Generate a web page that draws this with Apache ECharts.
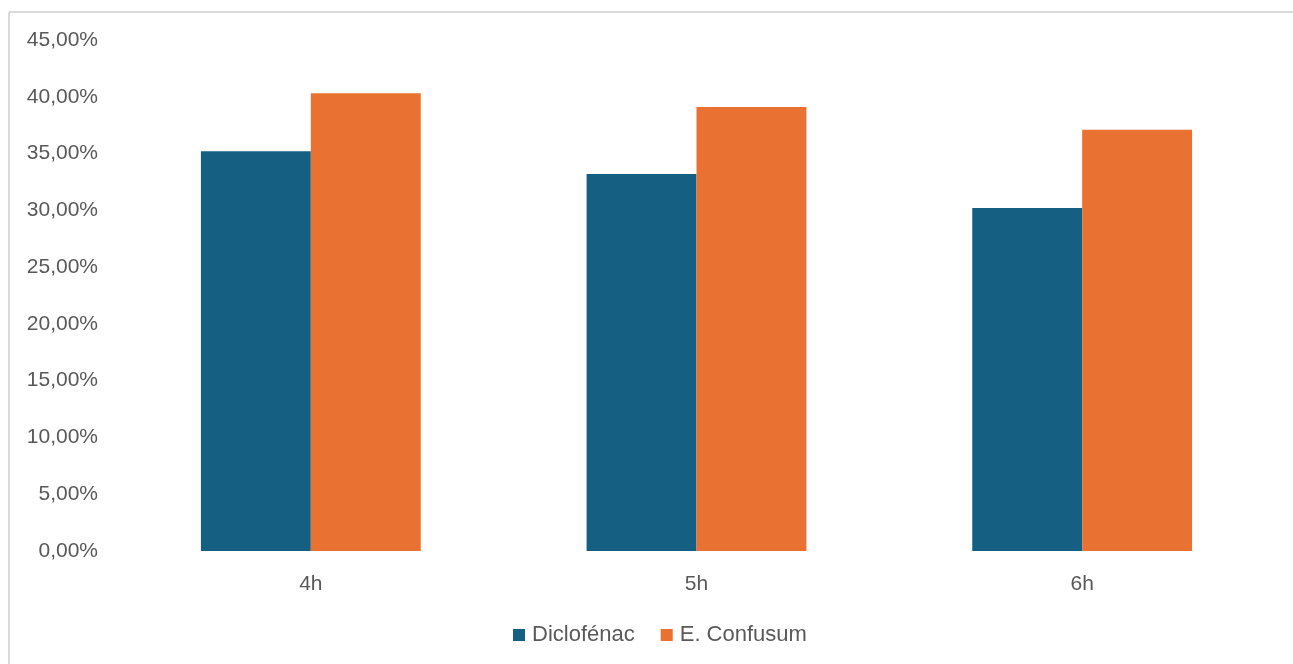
<!DOCTYPE html>
<html>
<head>
<meta charset="utf-8">
<style>
  html, body { margin: 0; padding: 0; background: #ffffff; }
  #chart { width: 1293px; height: 664px; }
</style>
<script src="https://cdn.jsdelivr.net/npm/echarts@6/dist/echarts.min.js"></script>
</head>
<body>
<div id="chart"></div>
<script>
// Time points after administration
const categories = ['4h', '5h', '6h'];
// Inhibition percentages per treatment
const diclofenac = [35.2, 33.2, 30.2];
const eConfusum = [40.3, 39.1, 37.1];
const seriesNames = ['Diclofénac', 'E. Confusum'];

const textColor = '#595959';
const fontFamily = '"Liberation Sans", Arial, sans-serif';

const chart = echarts.init(document.getElementById('chart'));

chart.setOption({
  animation: false,
  backgroundColor: '#ffffff',
  color: ['#156082', '#E97132'],
  graphic: [
    // chart-area frame (left and top edges)
    { type: 'line', shape: { x1: 9, y1: 12, x2: 9, y2: 700 }, style: { stroke: '#d9d9d9', lineWidth: 2 } },
    { type: 'line', shape: { x1: 9, y1: 12, x2: 1300, y2: 12 }, style: { stroke: '#d9d9d9', lineWidth: 2 } }
  ],
  grid: { left: 118, right: 18, top: 40, bottom: 113, containLabel: false },
  legend: {
    data: seriesNames,
    top: 619,
    left: 508,
    icon: 'rect',
    itemWidth: 12,
    itemHeight: 12,
    itemGap: 26,
    textStyle: { color: textColor, fontSize: 22, fontFamily: fontFamily, padding: [0, 0, 0, 2] }
  },
  xAxis: {
    type: 'category',
    data: categories,
    axisLine: { show: false },
    axisTick: { show: false },
    axisLabel: { color: textColor, fontSize: 21, fontFamily: fontFamily, margin: 23 }
  },
  yAxis: {
    type: 'value',
    min: 0,
    max: 45,
    interval: 5,
    splitLine: { show: false },
    axisLine: { show: false },
    axisTick: { show: false },
    axisLabel: {
      color: textColor,
      fontSize: 21,
      fontFamily: fontFamily,
      margin: 20,
      formatter: v => v.toFixed(2).replace('.', ',') + '%'
    }
  },
  series: [
    { name: seriesNames[0], type: 'bar', data: diclofenac, barGap: '0%', barCategoryGap: '43%' },
    { name: seriesNames[1], type: 'bar', data: eConfusum, barGap: '0%', barCategoryGap: '43%' }
  ]
});
</script>
</body>
</html>
